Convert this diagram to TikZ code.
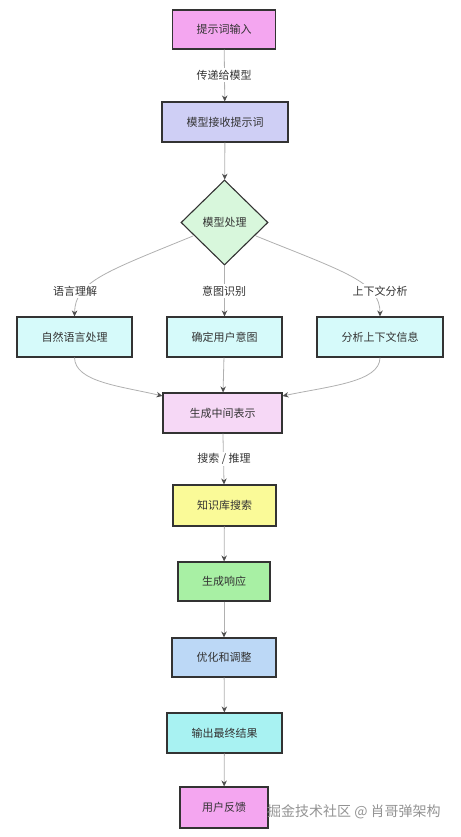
\documentclass[tikz,border=0pt]{standalone}
\usepackage{fontspec}
\newfontfamily\cjk{Noto Sans CJK SC}
\usetikzlibrary{shapes.geometric,arrows.meta}
\definecolor{cpink}{HTML}{F4A6F0}
\definecolor{clav}{HTML}{CFCFF5}
\definecolor{cgreenl}{HTML}{D8F7DC}
\definecolor{ccyanl}{HTML}{D6FAFA}
\definecolor{cpinkl}{HTML}{F6D8F6}
\definecolor{cyell}{HTML}{FAFA98}
\definecolor{cgreen}{HTML}{A8F0A4}
\definecolor{cblue}{HTML}{BCD8F6}
\definecolor{ccyan}{HTML}{A8F2F2}
\definecolor{cborder}{HTML}{333333}
\definecolor{cline}{HTML}{B0B0B0}
\definecolor{ctip}{HTML}{505050}
\definecolor{ctext}{HTML}{333333}
\tikzset{
  box/.style={draw=cborder, line width=1.1pt, rectangle, inner sep=0pt,
    font=\cjk\fontsize{11}{13}\selectfont, text=ctext},
  dia/.style={draw=cborder, line width=1.1pt, diamond, inner sep=0pt, aspect=1,
    minimum width=87pt, minimum height=85pt, fill=cgreenl,
    font=\cjk\fontsize{11}{13}\selectfont, text=ctext},
  lbl/.style={fill=white, inner sep=1.5pt, font=\cjk\fontsize{11}{13}\selectfont, text=ctext},
  conn/.style={draw=cline, line width=0.8pt,
    -{Stealth[length=6pt,width=5.5pt,fill=ctip,color=ctip]}},
}
\begin{document}
\begin{tikzpicture}[x=1pt,y=-1pt]
\useasboundingbox (0,0) rectangle (460,837);
\node[box, fill=cpink, minimum width=103pt, minimum height=39pt] (n1) at (224,29.5) {提示词输入};
\node[box, fill=clav, minimum width=126pt, minimum height=40pt] (n2) at (225,122) {模型接收提示词};
\node[dia] (d) at (224.5,222.5) {模型处理};
\node[box, fill=ccyanl, minimum width=115pt, minimum height=40pt] (a) at (74.5,337) {自然语言处理};
\node[box, fill=ccyanl, minimum width=115pt, minimum height=40pt] (b) at (224.5,337) {确定用户意图};
\node[box, fill=ccyanl, minimum width=126pt, minimum height=40pt] (c) at (380,337) {分析上下文信息};
\node[box, fill=cpinkl, minimum width=119pt, minimum height=40pt] (m) at (222.5,413) {生成中间表示};
\node[box, fill=cyell, minimum width=103pt, minimum height=41pt] (k) at (224.5,505.5) {知识库搜索};
\node[box, fill=cgreen, minimum width=92pt, minimum height=39pt] (g) at (224,581.5) {生成响应};
\node[box, fill=cblue, minimum width=104pt, minimum height=39pt] (o) at (224,657.5) {优化和调整};
\node[box, fill=ccyan, minimum width=115pt, minimum height=40pt] (out) at (224.5,733) {输出最终结果};
\node[box, fill=cpink, minimum width=88pt, minimum height=41pt] (f) at (224,807.5) {用户反馈};

\coordinate (dl) at (193,236);
\coordinate (dr) at (256,236);
\draw[conn] (n1) -- (n2);
\draw[conn] (n2) -- (d);
\draw[conn] (dl) .. controls (105,272) and (75,282) .. (a.north);
\draw[conn] (d.south) -- (b.north);
\draw[conn] (dr) .. controls (345,272) and (380,282) .. (c.north);
\draw[conn] (a.south) .. controls (75,382) and (120,386) .. (m.north west |- 0,396);
\draw[conn] (b) -- (m);
\draw[conn] (c.south) .. controls (380,382) and (330,386) .. (m.north east |- 0,396);
\draw[conn] (m) -- (k);
\draw[conn] (k) -- (g);
\draw[conn] (g) -- (o);
\draw[conn] (o) -- (out);
\draw[conn] (out) -- (f);

\node[lbl] (l1) at (224,75) {传递给模型};
\node[lbl] (l2) at (75,291) {语言理解};
\node[lbl] (l3) at (224,291) {意图识别};
\node[lbl] (l4) at (380,291) {上下文分析};
\node[lbl] (l5) at (224,459) {搜索 / 推理};
\node[font=\cjk\fontsize{14}{16}\selectfont, text=gray!85, anchor=west, inner sep=0pt] (wm) at (267,812) {掘金技术社区 @ 肖哥弹架构};
\end{tikzpicture}
\end{document}
